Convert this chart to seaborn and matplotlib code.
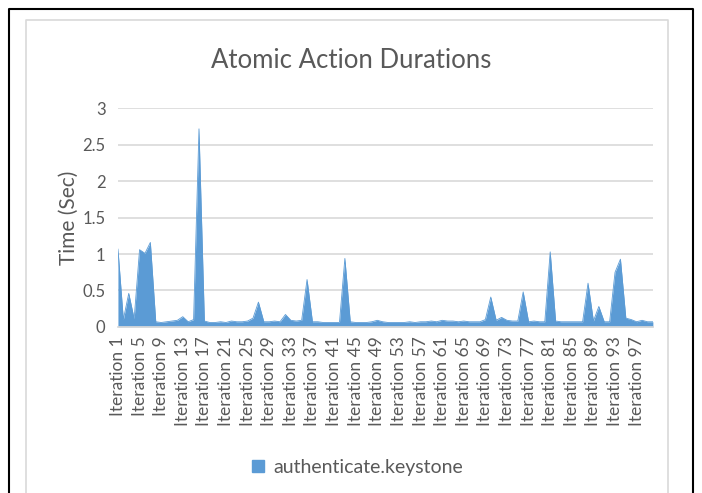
import numpy as np
import pandas as pd
import seaborn as sns
import matplotlib.pyplot as plt
from matplotlib.lines import Line2D

# durations per iteration (sec)
iterations = [f"Iteration {i}" for i in range(1, 101)]
durations = [
    1.07, 0.10, 0.46, 0.11, 1.06, 1.01, 1.16, 0.07, 0.06, 0.07,
    0.08, 0.09, 0.14, 0.07, 0.10, 2.72, 0.08, 0.06, 0.06, 0.07,
    0.06, 0.08, 0.07, 0.07, 0.08, 0.12, 0.34, 0.07, 0.07, 0.08,
    0.07, 0.17, 0.09, 0.08, 0.09, 0.65, 0.07, 0.07, 0.06, 0.06,
    0.06, 0.06, 0.94, 0.07, 0.06, 0.06, 0.06, 0.07, 0.09, 0.07,
    0.06, 0.06, 0.06, 0.06, 0.07, 0.06, 0.07, 0.07, 0.08, 0.07,
    0.09, 0.08, 0.08, 0.07, 0.08, 0.07, 0.07, 0.07, 0.10, 0.41,
    0.09, 0.13, 0.09, 0.08, 0.08, 0.48, 0.07, 0.08, 0.07, 0.07,
    1.03, 0.08, 0.07, 0.07, 0.07, 0.07, 0.07, 0.60, 0.08, 0.28,
    0.07, 0.07, 0.75, 0.93, 0.12, 0.10, 0.07, 0.09, 0.07, 0.07,
]
y_ticks = [0, 0.5, 1, 1.5, 2, 2.5, 3]
y_labels = ["0", "0.5", "1", "1.5", "2", "2.5", "3"]
series_name = "authenticate.keystone"

df = pd.DataFrame({"pos": np.arange(len(iterations)), "iteration": iterations, "time": durations})

sns.set_theme(style="white")
plt.rcParams["font.family"] = ["Lato", "DejaVu Sans"]

blue = "#5B9BD5"
grey_txt = "#595959"

fig = plt.figure(figsize=(7.02, 4.93), dpi=100)
ax = fig.add_axes([0.168, 0.337, 0.762, 0.443])

sns.lineplot(data=df, x="pos", y="time", color=blue, linewidth=0.6, ax=ax)
ax.fill_between(df["pos"], df["time"], color=blue, linewidth=0)

ax.set_xlim(0, len(iterations) - 1)
ax.set_ylim(0, 3)
ax.set_yticks(y_ticks)
ax.set_yticklabels(y_labels, color=grey_txt, fontsize=12)
ax.yaxis.grid(True, color="#D9D9D9", linewidth=1.2)
ax.set_axisbelow(True)

ax.set_xticks(df["pos"][::4])
ax.set_xticklabels(df["iteration"][::4], rotation=90, color=grey_txt, fontsize=12.5)
ax.set_xticks(df["pos"], minor=True)
ax.tick_params(axis="x", which="both", length=4, color="#D9D9D9", pad=3)
ax.tick_params(axis="y", length=0, pad=9)

for s in ["top", "right", "left"]:
    ax.spines[s].set_visible(False)
ax.spines["bottom"].set_color("#D9D9D9")

ax.set_xlabel("")
ax.set_ylabel("Time (Sec)", color=grey_txt, fontsize=15)
ax.yaxis.set_label_coords(-0.073, 0.5)
fig.text(0.5, 1 - 60 / 493, "Atomic Action Durations", color=grey_txt, fontsize=18.5,
         ha="center", va="center")

handle = Line2D([], [], marker="s", linestyle="", color=blue, markersize=8)
fig.legend([handle], [series_name], loc="center", bbox_to_anchor=(0.5, 0.052),
           frameon=False, fontsize=14, labelcolor=grey_txt, handletextpad=-0.2,
           borderaxespad=0)

# document frame and chart border
W, H = 702, 493
fig.add_artist(Line2D([9 / W, 9 / W, 693 / W, 693 / W], [0, 1 - 9 / H, 1 - 9 / H, 0],
                      transform=fig.transFigure, color="black", linewidth=1.5))
fig.add_artist(Line2D([26 / W, 26 / W, 668 / W, 668 / W], [0, 1 - 20 / H, 1 - 20 / H, 0],
                      transform=fig.transFigure, color="#D9D9D9", linewidth=1.2))

fig.savefig("out.png", dpi=100)
